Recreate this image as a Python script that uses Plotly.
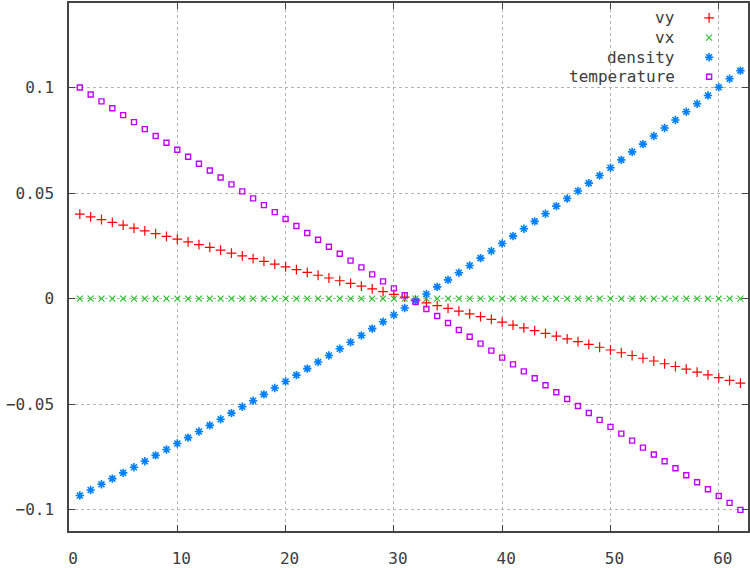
import plotly.graph_objects as go

# ---- data ----
x_vals = [1, 2, 3, 4, 5, 6, 7, 8, 9, 10, 11, 12, 13, 14, 15, 16, 17, 18, 19, 20,
          21, 22, 23, 24, 25, 26, 27, 28, 29, 30, 31, 32, 33, 34, 35, 36, 37, 38, 39, 40,
          41, 42, 43, 44, 45, 46, 47, 48, 49, 50, 51, 52, 53, 54, 55, 56, 57, 58, 59, 60,
          61, 62]

vy = [0.0400, 0.0387, 0.0374, 0.0361, 0.0348, 0.0334, 0.0321, 0.0308, 0.0295, 0.0282,
      0.0269, 0.0256, 0.0243, 0.0230, 0.0216, 0.0203, 0.0190, 0.0177, 0.0164, 0.0151,
      0.0138, 0.0125, 0.0111, 0.0098, 0.0085, 0.0072, 0.0059, 0.0046, 0.0033, 0.0020,
      0.0007, -0.0007, -0.0020, -0.0033, -0.0046, -0.0059, -0.0072, -0.0085, -0.0098, -0.0111,
      -0.0125, -0.0138, -0.0151, -0.0164, -0.0177, -0.0190, -0.0203, -0.0216, -0.0230, -0.0243,
      -0.0256, -0.0269, -0.0282, -0.0295, -0.0308, -0.0321, -0.0334, -0.0348, -0.0361, -0.0374,
      -0.0387, -0.0400]

vx = [0.0, 0.0, 0.0, 0.0, 0.0, 0.0, 0.0, 0.0, 0.0, 0.0,
      0.0, 0.0, 0.0, 0.0, 0.0, 0.0, 0.0, 0.0, 0.0, 0.0,
      0.0, 0.0, 0.0, 0.0, 0.0, 0.0, 0.0, 0.0, 0.0, 0.0,
      0.0, 0.0, 0.0, 0.0, 0.0, 0.0, 0.0, 0.0, 0.0, 0.0,
      0.0, 0.0, 0.0, 0.0, 0.0, 0.0, 0.0, 0.0, 0.0, 0.0,
      0.0, 0.0, 0.0, 0.0, 0.0, 0.0, 0.0, 0.0, 0.0, 0.0,
      0.0, 0.0]

density = [-0.0932, -0.0906, -0.0879, -0.0852, -0.0825, -0.0798, -0.0770, -0.0742, -0.0714, -0.0686,
           -0.0658, -0.0629, -0.0600, -0.0571, -0.0542, -0.0512, -0.0483, -0.0453, -0.0423, -0.0392,
           -0.0362, -0.0331, -0.0300, -0.0269, -0.0237, -0.0206, -0.0174, -0.0142, -0.0109, -0.0077,
           -0.0044, -0.0011, 0.0022, 0.0056, 0.0089, 0.0123, 0.0157, 0.0192, 0.0226, 0.0261,
           0.0296, 0.0331, 0.0366, 0.0402, 0.0438, 0.0474, 0.0510, 0.0547, 0.0583, 0.0620,
           0.0657, 0.0695, 0.0732, 0.0770, 0.0808, 0.0846, 0.0885, 0.0923, 0.0962, 0.1001,
           0.1041, 0.1080]

temperature = [0.1000, 0.0967, 0.0934, 0.0902, 0.0869, 0.0836, 0.0803, 0.0770, 0.0738, 0.0705,
               0.0672, 0.0639, 0.0607, 0.0574, 0.0541, 0.0508, 0.0475, 0.0443, 0.0410, 0.0377,
               0.0344, 0.0311, 0.0279, 0.0246, 0.0213, 0.0180, 0.0148, 0.0115, 0.0082, 0.0049,
               0.0016, -0.0016, -0.0049, -0.0082, -0.0115, -0.0148, -0.0180, -0.0213, -0.0246, -0.0279,
               -0.0311, -0.0344, -0.0377, -0.0410, -0.0443, -0.0475, -0.0508, -0.0541, -0.0574, -0.0607,
               -0.0639, -0.0672, -0.0705, -0.0738, -0.0770, -0.0803, -0.0836, -0.0869, -0.0902, -0.0934,
               -0.0967, -0.1000]

series_names = ["vy", "vx", "density", "temperature"]
x_ticks = [0, 10, 20, 30, 40, 50, 60]
y_ticks = [-0.1, -0.05, 0, 0.05, 0.1]
y_tick_labels = ["\u22120.1", "\u22120.05", "0", "0.05", "0.1"]

# ---- styles ----
W, H = 750, 568
M_L, M_R, M_T, M_B = 69, 0, 3, 35
FONT = dict(family="DejaVu Sans Mono", size=16, color="#3c3c3c")
styles = [
    dict(symbol="cross-thin", size=7, color="#ff0000", lw=1.2),
    dict(symbol="x-thin", size=6, color="#22c022", lw=1.1),
    dict(symbol="asterisk", size=7, color="#0080ff", lw=1.6),
    dict(symbol="square-open", size=5, color="#c000ff", lw=1.4),
]
series_values = [vy, vx, density, temperature]

fig = go.Figure()
for name, vals, st in zip(series_names, series_values, styles):
    fig.add_trace(go.Scatter(
        x=x_vals, y=vals, mode="markers", name=name, showlegend=False,
        marker=dict(symbol=st["symbol"], size=st["size"], color=st["color"],
                    line=dict(color=st["color"], width=st["lw"])),
        cliponaxis=False,
    ))

# ---- gnuplot-style key (text right-justified, sample on the right) ----
KEY_TEXT_RIGHT = 679   # px in figure coords
KEY_SAMPLE_X = 711
KEY_ROW0 = 18
KEY_DY = 19.7
for i, (name, st) in enumerate(zip(series_names, styles)):
    ypx = KEY_ROW0 + i * KEY_DY
    fig.add_trace(go.Scatter(
        x=[KEY_SAMPLE_X], y=[ypx], xaxis="x2", yaxis="y2", mode="markers",
        showlegend=False, hoverinfo="skip", cliponaxis=False,
        marker=dict(symbol=st["symbol"], size=st["size"], color=st["color"],
                    line=dict(color=st["color"], width=st["lw"])),
    ))
    fig.add_annotation(x=KEY_TEXT_RIGHT, y=ypx, xref="x2", yref="y2", text=name,
                       showarrow=False, xanchor="right", yanchor="middle",
                       font=FONT)

axis_common = dict(
    showline=True, linecolor="#444444", linewidth=1.5,
    ticks="inside", tickcolor="#444444", tickwidth=1.2, ticklen=6,
    showgrid=True, gridcolor="#b4b4b4", gridwidth=1, griddash="dot",
    zeroline=False, tickfont=FONT,
)

fig.update_layout(
    width=W, height=H,
    margin=dict(l=M_L, r=M_R, t=M_T, b=M_B, pad=0),
    paper_bgcolor="white", plot_bgcolor="white",
    xaxis=dict(range=[0, 62.7], tickvals=x_ticks, ticktext=[str(v) for v in x_ticks],
               mirror="ticks", ticklabelstandoff=12, ticklabelshift=4, **axis_common),
    yaxis=dict(range=[-0.11, 0.14], tickvals=y_ticks, ticktext=y_tick_labels,
               mirror="ticks", ticklabelstandoff=10, **axis_common),
    xaxis2=dict(overlaying="x", range=[M_L, W - M_R], visible=False, fixedrange=True),
    yaxis2=dict(overlaying="y", range=[H - M_B, M_T], visible=False, fixedrange=True),
    showlegend=False,
)

fig.write_html("out.html")
